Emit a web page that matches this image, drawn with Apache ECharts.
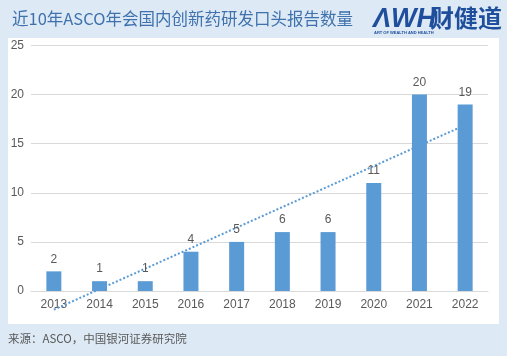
<!DOCTYPE html>
<html>
<head>
<meta charset="utf-8">
<script src="https://cdn.jsdelivr.net/npm/echarts@6/dist/echarts.min.js"></script>
<style>
html,body{margin:0;padding:0;background:#dde9f5;}
#c{width:507px;height:356px;}
</style>
</head>
<body>
<div id="c"></div>
<script>
const categories = ['2013','2014','2015','2016','2017','2018','2019','2020','2021','2022'];
const counts = [2,1,1,4,5,6,6,11,20,19];
const trendEnds = [-1.9, 16.9];
const yTicks = [0,5,10,15,20,25];
const titleText = '近10年ASCO年会国内创新药研发口头报告数量';
const sourceText = '来源：ASCO，中国银河证券研究院';

const trend = categories.map((c,i)=> i===0 ? trendEnds[0] : (i===categories.length-1 ? trendEnds[1] : null));
const font = '"Noto Sans CJK SC","Noto Sans",sans-serif';

const chart = echarts.init(document.getElementById('c'));
chart.setOption({
  backgroundColor: '#dde9f5',
  animation: false,
  textStyle: {fontFamily: font},
  graphic: [
    {type:'rect', z:-10, shape:{x:8,y:38,width:491,height:286}, style:{fill:'#ffffff'}},
    {type:'text', left:12, top:10, style:{text:titleText, fill:'#3f72ad', font:'16.5px '+font}},
    {type:'text', left:373, top:6, style:{text:'ΛWH', fill:'#1f4f9c', font:'italic bold 27px "Liberation Sans",sans-serif'}},
    {type:'text', left:430, top:6, style:{text:'财健道', fill:'#1f4f9c', font:'bold 24px "Noto Sans CJK SC",sans-serif'}},
    {type:'text', left:374, top:31, style:{text:'ART OF WEALTH AND HEALTH', fill:'#1f4f9c', font:'bold 4px "Liberation Sans",sans-serif'}},
    {type:'text', left:8, top:333, style:{text:sourceText, fill:'#595959', font:'11.5px '+font}}
  ],
  grid: {left:31, right:19, top:45.5, bottom:65, containLabel:false},
  xAxis: {
    type:'category', data:categories,
    axisLine:{show:true, lineStyle:{color:'#d9d9d9', width:1}},
    axisTick:{show:false},
    axisLabel:{color:'#595959', fontSize:12, margin:8, fontFamily:'"Liberation Sans",sans-serif'}
  },
  yAxis: {
    type:'value', min:yTicks[0], max:yTicks[yTicks.length-1], interval:5,
    axisLine:{show:false}, axisTick:{show:false},
    axisLabel:{color:'#595959', fontSize:12, margin:7, fontFamily:'"Liberation Sans",sans-serif'},
    splitLine:{lineStyle:{color:'#d9d9d9', width:1}}
  },
  series: [
    {
      type:'line', data:trend, connectNulls:true, symbol:'none', clip:false, z:1,
      lineStyle:{type:'dotted', width:2, color:'#5b9bd5'}, silent:true
    },
    {
      type:'bar', data:counts, barWidth:15, z:3,
      itemStyle:{color:'#5b9bd5'},
      label:{show:true, position:'top', distance:6, color:'#595959', fontSize:12, fontFamily:'"Liberation Sans",sans-serif'}
    }
  ]
});
</script>
</body>
</html>
